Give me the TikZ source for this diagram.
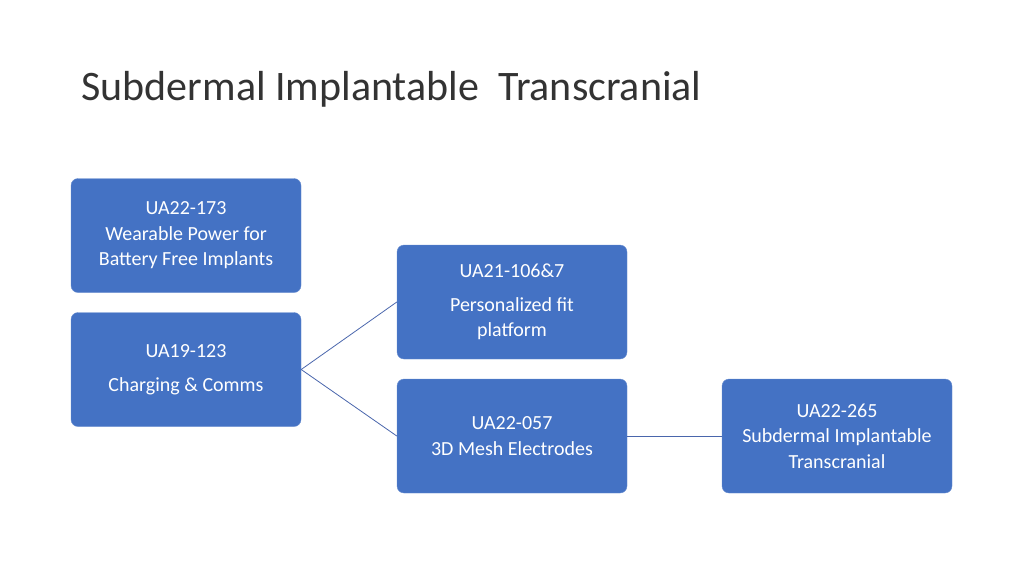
\documentclass[tikz,border=0pt]{standalone}
\usepackage{fontspec}
\setmainfont{Carlito}
\definecolor{boxblue}{HTML}{4472C4}
\definecolor{linec}{HTML}{4A66AC}
\begin{document}
\begin{tikzpicture}[x=1pt,y=-1pt,
  card/.style={fill=boxblue,draw=boxblue!80!white,rounded corners=7pt,minimum width=230pt,minimum height=114pt,text=white,align=center,font=\fontsize{20}{25.5}\selectfont,inner sep=0pt},
  link/.style={draw=linec,line width=0.8pt}]
\useasboundingbox (0,0) rectangle (1024,576);
\node[anchor=base west,font=\fontsize{42}{50}\selectfont,text=black!80] (title) at (78,100) {Subdermal Implantable\ \ Transcranial};
\node[card] (a) at (186,235.5) {UA22-173\\Wearable Power for\\Battery Free Implants};
\node[card] (b) at (186,369.5) {UA19-123\\[8pt]Charging \& Comms};
\node[card] (c) at (512,302) {UA21-106\&7\\[8pt]Personalized fit\\platform};
\node[card] (d) at (512,436) {UA22-057\\3D Mesh Electrodes};
\node[card] (e) at (837,436) {UA22-265\\Subdermal Implantable\\Transcranial};
\draw[link] (b.east) -- (c.west);
\draw[link] (b.east) -- (d.west);
\draw[link] (d.east) -- (e.west);
\end{tikzpicture}
\end{document}
